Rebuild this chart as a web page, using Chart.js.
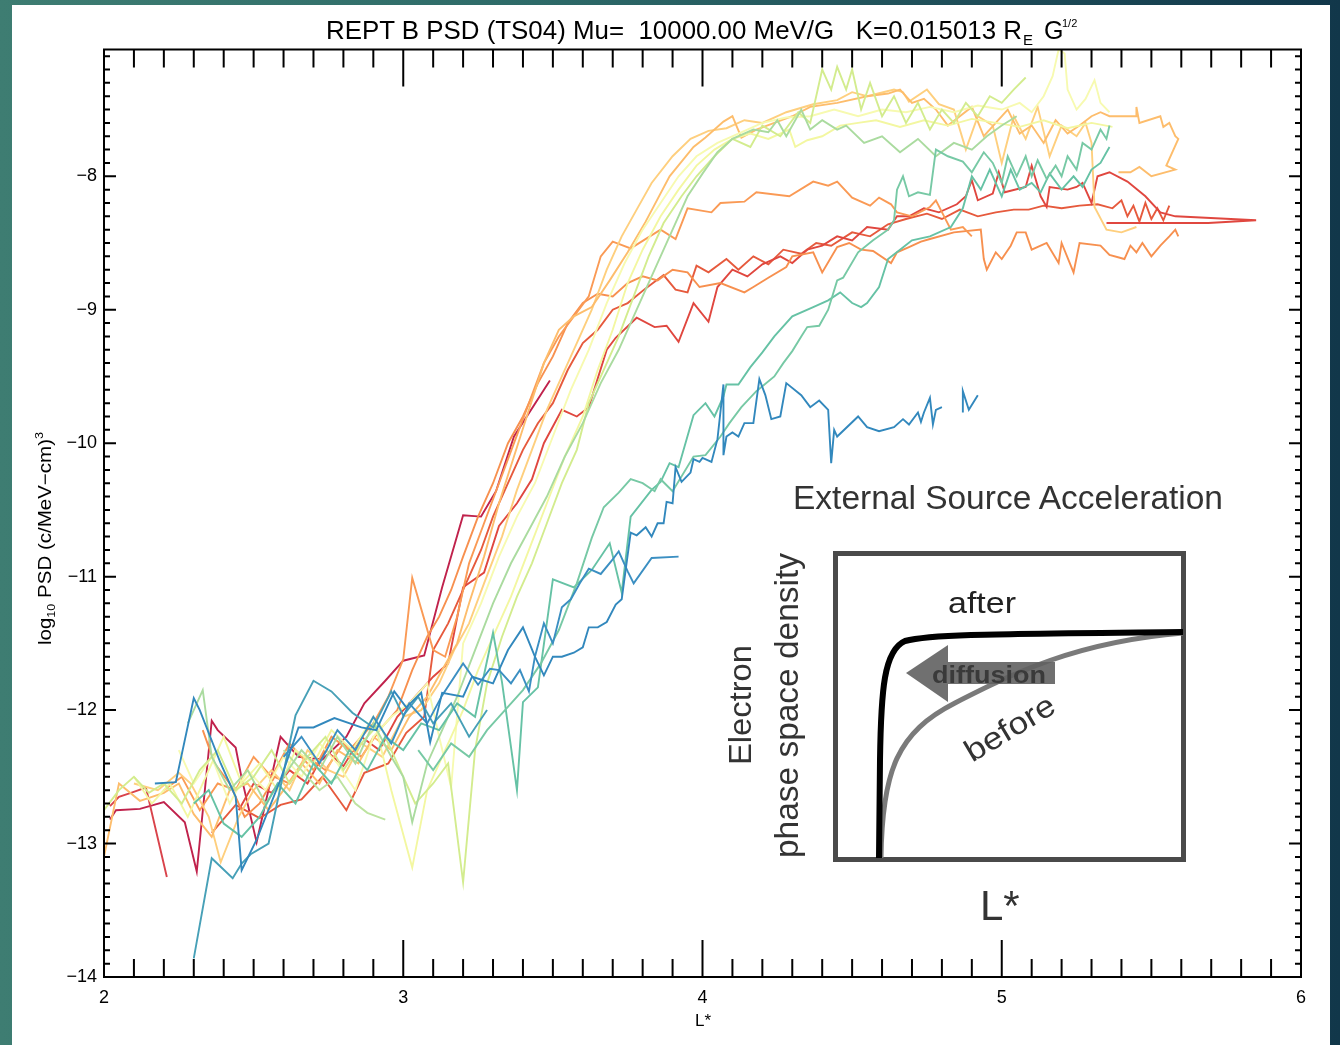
<!DOCTYPE html>
<html>
<head>
<meta charset="utf-8">
<script src="https://cdn.jsdelivr.net/npm/chart.js@4.4.0/dist/chart.umd.min.js"></script>
<style>
html, body { margin: 0; padding: 0; }
body {
    width: 1340px; height: 1045px; overflow: hidden; position: relative;
    background: linear-gradient(90deg, #3e7d72 0%, #2d6a68 40%, #1d4b57 75%, #11374a 100%);
    font-family: 'Liberation Sans', Arial, sans-serif;
}
#panel { position: absolute; left: 12px; top: 5px; width: 1318px; height: 1040px; background: #fff; }
#psdChart { position: absolute; left: 0; top: 0; }
#overlay { position: absolute; left: 0; top: 0; pointer-events: none; }
#overlay text { font-family: 'Liberation Sans', Arial, sans-serif; white-space: pre; }
</style>
</head>
<body>
<div id="panel"></div>
<canvas id="psdChart" width="1340" height="1045"></canvas>

<svg id="overlay" width="1340" height="1045">
    <!-- title -->
    <text x="326" y="39" font-size="25" textLength="696" lengthAdjust="spacingAndGlyphs">REPT B PSD (TS04) Mu=  10000.00 MeV/G   K=0.015013 R</text>
    <text x="1023" y="45" font-size="15">E</text>
    <text x="1044" y="39" font-size="25">G</text>
    <text x="1062" y="27" font-size="11">1/2</text>

    <!-- axis titles -->
    <g transform="translate(51,645) rotate(-90)">
        <text x="0" y="0" font-size="18" textLength="213" lengthAdjust="spacingAndGlyphs">log<tspan font-size="11" dy="4">10</tspan><tspan dy="-4"> PSD (c/MeV&#8722;cm)</tspan><tspan font-size="11" dy="-8">3</tspan></text>
    </g>
    <text x="703" y="1026" font-size="17" text-anchor="middle">L*</text>

    <!-- inset sketch -->
    <text x="793" y="509" font-size="34" fill="#333" textLength="430" lengthAdjust="spacingAndGlyphs">External Source Acceleration</text>
    <rect x="835.5" y="553.5" width="348" height="306" fill="none" stroke="#4a4a4a" stroke-width="5"/>
    <path d="M 881 858 C 882 770, 898 732, 955 703 S 1075 642, 1183 633" fill="none" stroke="#7a7a7a" stroke-width="5"/>
    <path d="M 879 858 L 880 760 C 881 690, 884 650, 905 641 C 930 634, 990 634, 1183 632" fill="none" stroke="#000" stroke-width="6"/>
    <polygon points="906,673 948,645 948,662 1055,662 1055,684 948,684 948,702" fill="#606060" opacity="0.9"/>
    <text x="932" y="683" font-size="24" font-weight="bold" fill="#3a3a3a" textLength="114" lengthAdjust="spacingAndGlyphs">diffusion</text>
    <text x="948" y="613" font-size="30" fill="#222" textLength="68" lengthAdjust="spacingAndGlyphs">after</text>
    <g transform="translate(1015,737) rotate(-31)">
        <text x="0" y="0" font-size="31" fill="#333" text-anchor="middle" textLength="100" lengthAdjust="spacingAndGlyphs">before</text>
    </g>
    <g transform="translate(751,765) rotate(-90)">
        <text x="0" y="0" font-size="32" fill="#333" textLength="120" lengthAdjust="spacingAndGlyphs">Electron</text>
    </g>
    <g transform="translate(798,858) rotate(-90)">
        <text x="0" y="0" font-size="33" fill="#333" textLength="305" lengthAdjust="spacingAndGlyphs">phase space density</text>
    </g>
    <text x="980" y="920" font-size="42" fill="#333">L*</text>
</svg>

<script>
// L* and log10 PSD pairs, one array per pass
const bluePass1 = [[2.17,-12.55],[2.24,-12.54],[2.3,-11.91],[2.32,-12.0],[2.39,-12.4],[2.44,-12.65],[2.46,-13.2],[2.51,-12.97],[2.59,-12.52],[2.65,-12.13],[2.7,-12.13],[2.77,-12.06],[2.86,-12.13],[2.91,-12.15],[2.97,-11.86],[3.01,-11.98],[3.06,-11.87],[3.09,-12.24],[3.13,-11.87],[3.2,-11.9],[3.23,-11.75],[3.3,-11.8],[3.35,-11.55],[3.4,-11.38],[3.44,-11.6],[3.47,-11.74],[3.5,-11.6],[3.53,-11.6],[3.57,-11.57],[3.6,-11.53],[3.62,-11.38],[3.65,-11.38],[3.68,-11.34],[3.71,-11.21],[3.73,-11.17],[3.76,-10.67],[3.78,-10.69],[3.81,-10.63],[3.83,-10.7],[3.85,-10.6],[3.87,-10.6],[3.88,-10.44],[3.9,-10.45],[3.91,-10.18],[3.93,-10.29],[3.96,-10.22],[3.97,-10.12],[3.99,-10.14],[4.0,-10.11],[4.03,-10.14],[4.05,-9.97],[4.07,-9.56],[4.07,-10.09],[4.08,-9.95],[4.1,-9.92],[4.12,-9.95],[4.14,-9.85],[4.17,-9.85],[4.19,-9.52],[4.21,-9.64],[4.23,-9.82],[4.26,-9.8],[4.28,-9.55],[4.33,-9.64],[4.36,-9.73],[4.39,-9.68],[4.42,-9.75],[4.43,-10.15],[4.44,-9.9],[4.45,-9.95],[4.52,-9.8],[4.55,-9.88],[4.59,-9.91],[4.64,-9.88],[4.67,-9.82],[4.69,-9.86],[4.72,-9.77],[4.73,-9.84],[4.74,-9.77],[4.76,-9.66],[4.77,-9.86],[4.78,-9.75],[4.8,-9.73],null,[4.87,-9.77],[4.87,-9.61],[4.89,-9.75],[4.92,-9.64]];
const bluePass2 = [[2.6,-12.35],[2.66,-12.2],[2.72,-12.4],[2.78,-12.15],[2.84,-12.3],[2.9,-12.05],[2.96,-12.25],[3.02,-11.95],[3.08,-12.1],[3.13,-11.89],[3.2,-11.65],[3.25,-11.81],[3.29,-11.69],[3.32,-11.7],[3.36,-11.8],[3.39,-11.7],[3.42,-11.86],[3.44,-11.6],[3.47,-11.35],[3.5,-11.5],[3.53,-11.23],[3.56,-11.17],[3.59,-11.05],[3.62,-10.94],[3.66,-10.98],[3.7,-10.87],[3.72,-10.81],[3.75,-10.96],[3.77,-11.05],[3.83,-10.86],[3.92,-10.85]];
const cyanPass = [[2.3,-13.86],[2.36,-13.11],[2.43,-13.26],[2.46,-13.15],[2.49,-13.08],[2.55,-13.0],[2.64,-12.04],[2.7,-11.78],[2.76,-11.86],[2.83,-12.02],[2.9,-12.13],[2.96,-11.86],[3.0,-12.04],[3.05,-11.9],[3.1,-12.1],[3.16,-11.95],[3.22,-12.2],[3.28,-12.0]];
const greenPass1 = [[3.05,-12.3],[3.1,-12.45],[3.16,-12.25],[3.22,-12.35],[3.28,-12.15],[3.34,-12.0],[3.4,-11.85],[3.46,-11.65],[3.52,-11.4],[3.58,-11.05],[3.63,-10.71],[3.67,-10.48],[3.72,-10.37],[3.76,-10.27],[3.8,-10.3],[3.84,-10.36],[3.86,-10.27],[3.9,-10.36],[3.97,-10.1],[4.01,-10.09],[4.06,-9.95],[4.09,-9.85],[4.13,-9.73],[4.18,-9.61],[4.24,-9.5],[4.27,-9.4],[4.3,-9.31],[4.33,-9.2],[4.35,-9.13],[4.39,-9.12],[4.42,-9.0],[4.45,-8.78],[4.47,-8.76],[4.52,-8.57],[4.57,-8.48],[4.62,-8.4],[4.64,-8.33],[4.65,-8.1],[4.67,-8.0],[4.69,-8.15],[4.72,-8.12],[4.76,-8.14],[4.78,-7.8],[4.82,-7.85],[4.87,-7.89],[4.9,-7.97],[4.94,-7.82],[4.97,-7.9],[5.0,-8.05],[5.02,-7.85],[5.05,-8.0],[5.08,-7.85],[5.1,-8.0],[5.12,-7.88],[5.15,-8.02],[5.18,-7.92],[5.2,-8.0],[5.22,-7.85],[5.25,-7.95],[5.27,-7.75],[5.3,-7.8],[5.33,-7.65],[5.35,-7.72],[5.36,-7.62]];
const greenPass2 = [[2.3,-12.7],[2.35,-12.6],[2.4,-12.85],[2.46,-12.95],[2.52,-12.8],[2.58,-12.55],[2.64,-12.7],[2.7,-12.4],[2.76,-12.55],[2.82,-12.3],[2.88,-12.45],[2.94,-12.2],[3.0,-12.3],[3.06,-12.1],[3.12,-12.15],[3.18,-11.95],[3.24,-12.05],[3.3,-11.42],[3.33,-11.79],[3.38,-12.6],[3.4,-11.94],[3.45,-11.83],[3.5,-11.02],[3.57,-11.08],[3.63,-10.95],[3.69,-10.75],[3.73,-11.12],[3.76,-10.55],[3.83,-10.35],[3.86,-10.29],[3.89,-10.15],[3.92,-10.18],[3.97,-9.79],[4.01,-9.7],[4.04,-9.8],[4.07,-9.65],[4.08,-9.56],[4.12,-9.56],[4.16,-9.43],[4.2,-9.32],[4.24,-9.2],[4.3,-9.05],[4.37,-8.98],[4.42,-8.93],[4.46,-8.87],[4.5,-8.95],[4.53,-8.98],[4.55,-8.95],[4.59,-8.83],[4.62,-8.62],[4.66,-8.55],[4.7,-8.48],[4.76,-8.45],[4.83,-8.38],[4.87,-8.24],[4.9,-8.0],[4.93,-8.1],[4.96,-7.95],[5.0,-8.15],[5.03,-7.95],[5.06,-8.1],[5.1,-8.05],[5.13,-8.12],[5.16,-7.98],[5.2,-8.1],[5.24,-8.0],[5.27,-8.08],[5.3,-7.95],[5.33,-7.9],[5.36,-7.78]];
const lightGreenPass = [[2.28,-12.1],[2.33,-11.85],[2.36,-12.35],[2.42,-12.6],[2.48,-12.45],[2.54,-12.7],[2.6,-12.5],[2.66,-12.3],[2.72,-12.45],[2.78,-12.2],[2.84,-12.4],[2.9,-12.1],[2.96,-12.35],[3.0,-12.5],[3.03,-12.84],[3.08,-12.4],[3.13,-12.15],[3.18,-11.9],[3.24,-11.55],[3.3,-11.2],[3.36,-10.9],[3.42,-10.65],[3.48,-10.4],[3.54,-10.1],[3.6,-9.85],[3.66,-9.55],[3.72,-9.3],[3.78,-9.0],[3.84,-8.7],[3.9,-8.4],[3.95,-8.15],[4.0,-7.98],[4.05,-7.82],[4.1,-7.72],[4.17,-7.65],[4.22,-7.67],[4.25,-7.58],[4.28,-7.7],[4.33,-7.5],[4.36,-7.65],[4.4,-7.58],[4.45,-7.65],[4.48,-7.62],[4.54,-7.75],[4.6,-7.7],[4.66,-7.82],[4.72,-7.72],[4.78,-7.85],[4.84,-7.75],[4.9,-7.8],[4.95,-7.7],[5.0,-7.62],[5.05,-7.55]];
const paleGreenPass = [[2.6,-12.3],[2.66,-12.45],[2.72,-12.6],[2.78,-12.5],[2.84,-12.7],[2.88,-12.77],[2.94,-12.82]];
const yellowGreenPass = [[2.0,-12.75],[2.05,-12.6],[2.1,-12.5],[2.15,-12.62],[2.2,-12.55],[2.26,-12.7],[2.32,-12.45],[2.38,-12.3],[2.44,-12.6],[2.5,-12.5],[2.56,-12.3],[2.62,-12.55],[2.68,-12.35],[2.74,-12.2],[2.8,-12.45],[2.86,-12.25],[2.92,-12.1],[2.98,-12.4],[3.04,-12.7],[3.1,-12.55],[3.15,-12.4],[3.2,-13.29],[3.24,-12.3],[3.28,-11.8],[3.33,-11.45],[3.38,-11.15],[3.43,-10.9],[3.48,-10.6],[3.53,-10.3],[3.58,-10.05],[3.62,-9.7],[3.67,-9.45],[3.72,-9.2],[3.77,-8.9],[3.82,-8.6],[3.87,-8.35],[3.93,-8.15],[3.98,-8.0],[4.04,-7.85],[4.1,-7.72],[4.16,-7.78],[4.2,-7.62],[4.26,-7.7],[4.32,-7.52],[4.36,-7.6],[4.4,-7.2],[4.43,-7.35],[4.45,-7.18],[4.48,-7.35],[4.5,-7.2],[4.53,-7.5],[4.56,-7.3],[4.6,-7.55],[4.64,-7.4],[4.68,-7.6],[4.72,-7.45],[4.76,-7.65],[4.8,-7.5],[4.84,-7.6],[4.88,-7.45],[4.92,-7.55],[4.96,-7.4],[5.0,-7.45],[5.04,-7.35],[5.08,-7.26]];
const yellowPass1 = [[2.1,-12.5],[2.16,-12.7],[2.22,-12.55],[2.28,-12.8],[2.35,-12.45],[2.4,-12.2],[2.46,-12.55],[2.52,-12.4],[2.58,-12.6],[2.64,-12.3],[2.7,-12.4],[2.76,-12.15],[2.83,-12.3],[2.9,-12.05],[2.96,-12.6],[3.03,-13.18],[3.08,-12.6],[3.14,-12.3],[3.2,-12.0],[3.25,-11.7],[3.3,-11.45],[3.36,-11.15],[3.42,-10.8],[3.48,-10.45],[3.54,-10.1],[3.6,-9.8],[3.65,-9.45],[3.7,-9.15],[3.75,-8.8],[3.8,-8.55],[3.86,-8.3],[3.92,-8.1],[3.98,-7.92],[4.04,-7.8],[4.1,-7.72],[4.16,-7.68],[4.22,-7.72],[4.29,-7.65],[4.31,-7.78],[4.35,-7.73],[4.4,-7.7],[4.46,-7.62],[4.52,-7.6],[4.58,-7.58],[4.66,-7.63],[4.74,-7.58],[4.82,-7.62],[4.9,-7.57],[4.98,-7.6],[5.06,-7.63],[5.14,-7.58],[5.22,-7.64],[5.3,-7.6],[5.37,-7.63]];
const yellowPass2 = [[2.25,-12.3],[2.3,-12.55],[2.36,-12.35],[2.42,-12.7],[2.48,-12.45],[2.54,-12.6],[2.6,-12.35],[2.66,-12.5],[2.72,-12.25],[2.78,-12.4],[2.84,-12.6],[2.9,-12.2],[2.96,-12.05],[3.02,-11.95],[3.08,-11.8],[3.12,-12.2],[3.16,-12.58],[3.2,-11.5],[3.26,-11.2],[3.32,-10.85],[3.38,-10.55],[3.44,-10.3],[3.5,-9.95],[3.56,-9.6],[3.62,-9.3],[3.68,-8.95],[3.74,-8.65],[3.8,-8.4],[3.86,-8.2],[3.92,-8.0],[3.98,-7.85],[4.05,-7.75],[4.12,-7.68],[4.2,-7.6],[4.28,-7.56],[4.36,-7.55],[4.44,-7.5],[4.52,-7.55],[4.6,-7.5],[4.68,-7.52],[4.76,-7.48],[4.84,-7.52],[4.92,-7.47],[5.0,-7.5],[5.06,-7.45],[5.1,-7.52],[5.14,-7.4],[5.17,-7.25],[5.19,-7.05],[5.21,-7.08],[5.22,-7.35],[5.25,-7.5],[5.28,-7.42],[5.31,-7.28],[5.33,-7.45],[5.36,-7.52]];
const lightOrangePass1 = [[2.0,-13.1],[2.05,-12.55],[2.12,-12.68],[2.2,-12.62],[2.25,-12.55],[2.3,-12.78],[2.36,-12.95],[2.42,-12.6],[2.48,-12.55],[2.55,-12.75],[2.6,-12.6],[2.66,-12.4],[2.72,-12.55],[2.78,-12.3],[2.85,-12.4],[2.9,-12.2],[2.96,-12.3],[3.02,-12.05],[3.08,-11.9],[3.13,-11.7],[3.18,-11.5],[3.22,-11.2],[3.27,-10.85],[3.32,-10.45],[3.37,-10.1],[3.42,-9.75],[3.47,-9.4],[3.52,-9.15],[3.57,-9.05],[3.63,-8.98],[3.69,-8.78],[3.75,-8.57],[3.81,-8.34],[3.89,-8.0],[3.97,-7.78],[4.01,-7.71],[4.07,-7.59],[4.1,-7.55],[4.13,-7.71],[4.18,-7.65],[4.24,-7.6],[4.3,-7.55],[4.36,-7.48],[4.45,-7.45],[4.55,-7.4],[4.62,-7.38],[4.66,-7.35],[4.7,-7.45],[4.74,-7.42],[4.78,-7.5],[4.82,-7.62],[4.86,-7.55],[4.9,-7.48],[4.94,-7.7],[4.98,-7.6],[5.02,-7.5],[5.06,-7.68],[5.1,-7.62],[5.14,-7.75],[5.18,-7.58],[5.22,-7.68],[5.26,-7.62],[5.3,-7.55],[5.33,-7.52],[5.36,-7.55],[5.45,-7.55],[5.45,-7.48],[5.46,-7.6],[5.53,-7.55],[5.54,-7.63],[5.56,-7.6],[5.58,-7.7],[5.59,-7.72],[5.55,-7.92],[5.58,-7.95],[5.5,-8.0],[5.46,-7.93],[5.43,-7.97],[5.39,-7.97]];
const lightOrangePass2 = [[2.1,-12.55],[2.18,-12.6],[2.25,-12.47],[2.29,-12.55],[2.35,-12.8],[2.39,-13.14],[2.45,-12.8],[2.5,-12.6],[2.56,-12.45],[2.62,-12.6],[2.68,-12.3],[2.75,-12.45],[2.8,-12.5],[2.86,-12.25],[2.93,-12.35],[3.0,-12.05],[3.06,-12.0],[3.12,-11.8],[3.17,-11.55],[3.22,-11.35],[3.27,-11.05],[3.33,-10.7],[3.38,-10.35],[3.43,-10.05],[3.48,-9.75],[3.53,-9.5],[3.58,-9.25],[3.63,-9.0],[3.68,-8.7],[3.73,-8.45],[3.78,-8.25],[3.83,-8.05],[3.9,-7.85],[3.96,-7.72],[4.02,-7.66],[4.08,-7.64],[4.14,-7.58],[4.2,-7.6],[4.28,-7.52],[4.37,-7.46],[4.45,-7.43],[4.5,-7.37],[4.55,-7.4],[4.64,-7.35],[4.67,-7.37],[4.69,-7.44],[4.75,-7.35],[4.79,-7.46],[4.84,-7.5],[4.88,-7.8],[4.92,-7.55],[4.97,-7.62],[5.0,-7.9],[5.04,-7.55],[5.08,-7.72],[5.12,-7.48],[5.16,-7.85],[5.2,-7.62],[5.25,-7.7],[5.28,-7.6],[5.3,-7.75],[5.31,-8.23],[5.35,-8.4],[5.4,-8.42],[5.45,-8.38]];
const orangePassUpper = [[2.2,-12.6],[2.26,-12.5],[2.32,-12.75],[2.38,-12.55],[2.44,-12.6],[2.5,-12.35],[2.56,-12.5],[2.62,-12.25],[2.7,-12.45],[2.76,-12.2],[2.82,-12.3],[2.9,-12.1],[2.95,-11.9],[3.0,-11.62],[3.03,-11.01],[3.1,-11.55],[3.14,-11.6],[3.18,-11.3],[3.22,-10.9],[3.27,-10.6],[3.32,-10.3],[3.37,-10.0],[3.42,-9.7],[3.47,-9.4],[3.52,-9.2],[3.57,-9.05],[3.62,-8.9],[3.66,-8.6],[3.7,-8.49],[3.76,-8.54],[3.86,-8.4],[3.91,-8.47],[3.95,-8.24],[4.03,-8.27],[4.06,-8.2],[4.14,-8.19],[4.18,-8.12],[4.29,-8.15],[4.37,-8.04],[4.42,-8.07],[4.45,-8.04],[4.5,-8.16],[4.56,-8.22],[4.59,-8.16],[4.63,-8.21],[4.65,-8.27],[4.7,-8.3],[4.76,-8.23],[4.78,-8.18],[4.83,-8.4],[4.87,-8.38],[4.9,-8.45]];
const orangePassLower = [[2.33,-12.15],[2.37,-12.4],[2.42,-12.55],[2.47,-12.8],[2.52,-12.7],[2.57,-12.5],[2.62,-12.55],[2.68,-12.35],[2.74,-12.45],[2.8,-12.25],[2.86,-12.35],[2.92,-12.15],[2.98,-12.0],[3.03,-11.7],[3.08,-11.45],[3.12,-11.3],[3.16,-11.1],[3.2,-10.85],[3.25,-10.55],[3.3,-10.3],[3.35,-10.0],[3.4,-9.8],[3.45,-9.55],[3.5,-9.35],[3.55,-9.1],[3.6,-8.95],[3.65,-8.88],[3.7,-8.9],[3.75,-8.8],[3.8,-8.75],[3.85,-8.78],[3.9,-8.7],[3.95,-8.72],[3.99,-8.83],[4.06,-8.8],[4.14,-8.87],[4.17,-8.83],[4.22,-8.76],[4.28,-8.68],[4.3,-8.6],[4.37,-8.57],[4.4,-8.72],[4.45,-8.53],[4.49,-8.5],[4.53,-8.55],[4.57,-8.56],[4.63,-8.65],[4.65,-8.57],[4.69,-8.53],[4.73,-8.49],[4.76,-8.47],[4.84,-8.42],[4.93,-8.4],[4.94,-8.62],[4.95,-8.7],[4.98,-8.57],[5.0,-8.62],[5.03,-8.52],[5.05,-8.42],[5.08,-8.42],[5.1,-8.55],[5.13,-8.52],[5.15,-8.5],[5.19,-8.65],[5.2,-8.5],[5.24,-8.72],[5.26,-8.5],[5.33,-8.52],[5.36,-8.59],[5.41,-8.62],[5.43,-8.52],[5.45,-8.57],[5.47,-8.5],[5.5,-8.6],[5.53,-8.52],[5.56,-8.45],[5.58,-8.4],[5.59,-8.45]];
const redPassA = [[2.45,-12.75],[2.5,-12.55],[2.56,-12.62],[2.62,-12.45],[2.68,-12.55],[2.74,-12.3],[2.8,-12.42],[2.86,-12.2],[2.92,-12.3],[2.98,-12.05],[3.04,-11.9],[3.1,-11.75],[3.15,-11.65],[3.2,-11.08],[3.27,-10.97],[3.32,-10.62],[3.38,-10.45],[3.43,-10.27],[3.47,-10.0],[3.53,-9.75],[3.58,-9.8],[3.62,-9.73],[3.68,-9.3],[3.71,-9.21],[3.78,-9.06],[3.84,-9.13],[3.88,-9.12],[3.92,-9.24],[3.97,-8.95],[4.02,-9.09],[4.05,-8.83],[4.1,-8.7],[4.15,-8.75],[4.2,-8.66],[4.26,-8.6],[4.3,-8.65],[4.35,-8.55],[4.4,-8.52],[4.45,-8.45],[4.5,-8.48],[4.55,-8.38],[4.62,-8.4],[4.65,-8.3],[4.69,-8.3],[4.74,-8.24],[4.79,-8.27],[4.85,-8.21],[4.88,-8.15],[4.9,-8.03],[4.92,-8.18],[4.97,-8.13],[4.99,-7.97],[5.01,-8.12],[5.08,-8.08],[5.1,-7.92],[5.13,-8.15],[5.15,-8.23],[5.16,-8.08],[5.22,-8.1],[5.25,-8.08],[5.27,-8.05],[5.3,-8.2],[5.32,-8.0],[5.36,-7.97],[5.42,-8.04],[5.48,-8.15],[5.53,-8.27],[5.58,-8.3],[5.85,-8.33],[5.69,-8.35],[5.35,-8.35]];
const redPassB = [[2.36,-12.92],[2.44,-12.71],[2.52,-12.81],[2.59,-12.71],[2.66,-12.67],[2.73,-12.5],[2.81,-12.75],[2.87,-12.47],[2.95,-12.4],[3.01,-12.17],[3.07,-12.05],[3.1,-11.55],[3.15,-11.35],[3.2,-11.1],[3.26,-10.8],[3.3,-10.55],[3.35,-10.3],[3.4,-10.05],[3.45,-9.85],[3.5,-9.7],[3.55,-9.45],[3.6,-9.25],[3.65,-9.15],[3.7,-9.0],[3.75,-8.95],[3.81,-8.84],[3.87,-8.74],[3.91,-8.85],[3.95,-8.87],[3.98,-8.67],[4.02,-8.72],[4.08,-8.62],[4.12,-8.7],[4.17,-8.6],[4.22,-8.66],[4.27,-8.55],[4.33,-8.58],[4.38,-8.5],[4.43,-8.52],[4.5,-8.42],[4.56,-8.45],[4.62,-8.36],[4.68,-8.32],[4.75,-8.28],[4.8,-8.32],[4.86,-8.25],[4.92,-8.3],[4.98,-8.27],[5.04,-8.25],[5.09,-8.25],[5.14,-8.22],[5.2,-8.24],[5.26,-8.22],[5.32,-8.21],[5.37,-8.24],[5.4,-8.18],[5.42,-8.3],[5.44,-8.22],[5.46,-8.34],[5.48,-8.2],[5.5,-8.32],[5.52,-8.24],[5.54,-8.33],[5.56,-8.22]];
const redPassShort = [[2.02,-12.72],[2.05,-12.65],[2.09,-12.62],[2.14,-12.58],[2.21,-13.25]];
const crimsonPass = [[2.02,-12.82],[2.04,-12.75],[2.12,-12.74],[2.2,-12.69],[2.27,-12.84],[2.31,-13.21],[2.36,-12.08],[2.38,-12.15],[2.44,-12.28],[2.46,-12.51],[2.51,-12.99],[2.59,-12.2],[2.65,-12.35],[2.73,-12.37],[2.81,-12.2],[2.87,-11.95],[2.94,-11.78],[3.0,-11.63],[3.07,-11.59],[3.13,-11.08],[3.2,-10.54],[3.26,-10.55],[3.31,-10.36],[3.37,-9.95],[3.49,-9.53]];

const xTicks = [2, 3, 4, 5, 6];
const yTicks = [-14, -13, -12, -11, -10, -9, -8];

// first entry is painted on top
const passes = [
    [bluePass1, '#3288bd'],
    [bluePass2, '#3b8fc2'],
    [cyanPass, '#47a0b7'],
    [greenPass1, '#77c9a5'],
    [greenPass2, '#66c2a5'],
    [lightGreenPass, '#aadb9f'],
    [paleGreenPass, '#bde3a0'],
    [yellowGreenPass, '#d3ec8e'],
    [yellowPass1, '#f3f7a1'],
    [yellowPass2, '#f7fab0'],
    [lightOrangePass1, '#fdbd6c'],
    [lightOrangePass2, '#fecf7e'],
    [orangePassUpper, '#fa9a55'],
    [orangePassLower, '#f7904f'],
    [redPassA, '#e0473f'],
    [redPassB, '#e65a3d'],
    [redPassShort, '#d9434b'],
    [crimsonPass, '#c0224c']
];

function toPoints(pairs) {
    let lastX = 2;
    return pairs.map(p => {
        if (p === null) return {x: lastX, y: null};
        lastX = p[0];
        return {x: p[0], y: p[1]};
    });
}

// IDL style frame with inward ticks on all four sides
const frameTicks = {
    id: 'frameTicks',
    afterDatasetsDraw(chart) {
        const {ctx, chartArea: a, scales: {x, y}} = chart;
        ctx.save();
        ctx.strokeStyle = '#000';
        ctx.lineWidth = 2;
        ctx.beginPath();
        for (let i = 0; i <= 40; i++) {
            const px = x.getPixelForValue(2 + i / 10);
            const len = i % 10 === 0 ? 37 : 18;
            ctx.moveTo(px, a.bottom); ctx.lineTo(px, a.bottom - len);
            ctx.moveTo(px, a.top); ctx.lineTo(px, a.top + len);
        }
        for (let i = 0; i <= 69; i++) {
            const py = y.getPixelForValue(-14 + i / 10);
            const len = i % 10 === 0 ? 12 : 6;
            ctx.moveTo(a.left, py); ctx.lineTo(a.left + len, py);
            ctx.moveTo(a.right, py); ctx.lineTo(a.right - len, py);
        }
        ctx.stroke();
        ctx.strokeRect(a.left, a.top, a.right - a.left, a.bottom - a.top);
        ctx.restore();
    }
};

const ctx = document.getElementById('psdChart').getContext('2d');
new Chart(ctx, {
    type: 'scatter',
    data: {
        datasets: passes.map(([pairs, color]) => ({
            data: toPoints(pairs),
            showLine: true,
            borderColor: color,
            backgroundColor: color,
            borderWidth: 1.9,
            pointRadius: 0,
            tension: 0,
            spanGaps: false
        }))
    },
    options: {
        responsive: false,
        animation: false,
        events: [],
        layout: { padding: { left: 0, right: 39, top: 49.5, bottom: 0 } },
        scales: {
            x: {
                type: 'linear',
                min: 2,
                max: 6,
                afterBuildTicks: scale => { scale.ticks = xTicks.map(v => ({value: v})); },
                afterFit: scale => { scale.height = 68; },
                grid: { display: false, drawTicks: false },
                border: { display: false },
                ticks: {
                    padding: 10,
                    color: '#000',
                    font: { family: "'Liberation Sans', Arial, sans-serif", size: 18 },
                    callback: v => String(v)
                }
            },
            y: {
                type: 'linear',
                min: -14,
                max: -7.05,
                afterBuildTicks: scale => { scale.ticks = yTicks.map(v => ({value: v})); },
                afterFit: scale => { scale.width = 104; },
                grid: { display: false, drawTicks: false },
                border: { display: false },
                ticks: {
                    padding: 7,
                    color: '#000',
                    font: { family: "'Liberation Sans', Arial, sans-serif", size: 18 },
                    callback: v => '\u2212' + Math.abs(v)
                }
            }
        },
        plugins: {
            legend: { display: false },
            tooltip: { enabled: false }
        }
    },
    plugins: [frameTicks]
});
</script>
</body>
</html>
